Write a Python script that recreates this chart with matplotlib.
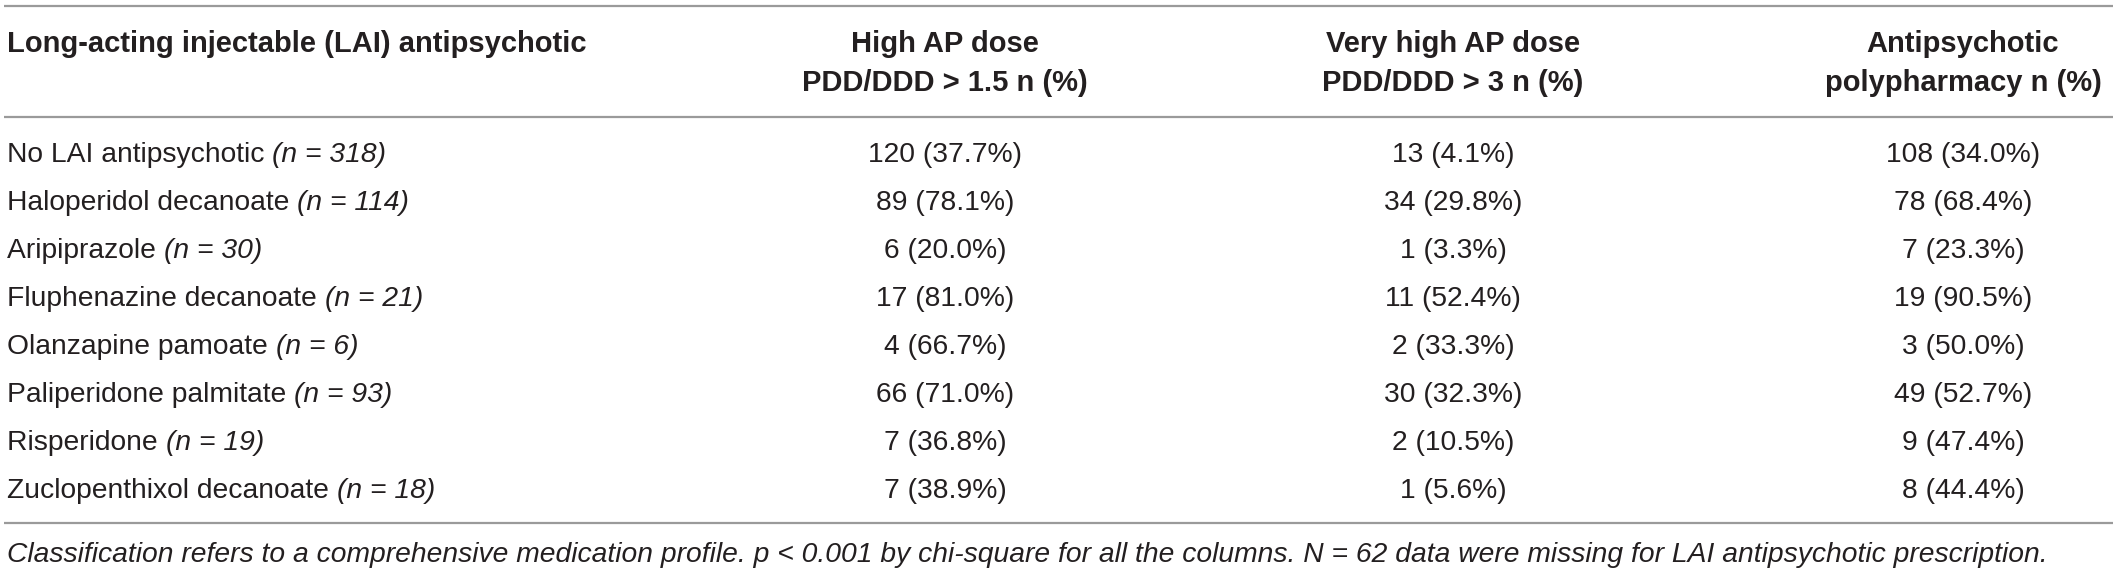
import matplotlib
matplotlib.use("Agg")
import matplotlib.pyplot as plt

# ---- data ----
header_first = "Long-acting injectable (LAI) antipsychotic"
col_headers = [
    ("High AP dose", "PDD/DDD > 1.5 n (%)"),
    ("Very high AP dose", "PDD/DDD > 3 n (%)"),
    ("Antipsychotic", "polypharmacy n (%)"),
]
drugs = ["No LAI antipsychotic", "Haloperidol decanoate", "Aripiprazole",
         "Fluphenazine decanoate", "Olanzapine pamoate", "Paliperidone palmitate",
         "Risperidone", "Zuclopenthixol decanoate"]
n_values = [318, 114, 30, 21, 6, 93, 19, 18]
high_dose = ["120 (37.7%)", "89 (78.1%)", "6 (20.0%)", "17 (81.0%)",
             "4 (66.7%)", "66 (71.0%)", "7 (36.8%)", "7 (38.9%)"]
very_high_dose = ["13 (4.1%)", "34 (29.8%)", "1 (3.3%)", "11 (52.4%)",
                  "2 (33.3%)", "30 (32.3%)", "2 (10.5%)", "1 (5.6%)"]
polypharmacy = ["108 (34.0%)", "78 (68.4%)", "7 (23.3%)", "19 (90.5%)",
                "3 (50.0%)", "49 (52.7%)", "9 (47.4%)", "8 (44.4%)"]
footnote = ("Classification refers to a comprehensive medication profile. p < 0.001 "
            "by chi-square for all the columns. N = 62 data were missing for LAI "
            "antipsychotic prescription.")

W, H = 2118, 572
fig = plt.figure(figsize=(W / 100, H / 100), dpi=100)
ax = fig.add_axes([0, 0, 1, 1])
ax.set_xlim(0, W)
ax.set_ylim(H, 0)
ax.axis("off")

FAM = ["Liberation Sans", "DejaVu Sans"]
TXT = "#231f20"
LINE = "#9a9a9a"
FS = 20.3
FSH = 21.0
FSF = 20.3

col_x = [945, 1453, 1963]
left_x = 7

# rules
for y in (6, 117, 523):
    ax.plot([4, 2113], [y, y], color=LINE, lw=1.6, solid_capstyle="butt")

# header
ax.text(left_x, 52, header_first, fontsize=FSH, fontweight="bold", family=FAM,
        color=TXT, va="baseline", ha="left")
for cx, (l1, l2) in zip(col_x, col_headers):
    ax.text(cx, 52, l1, fontsize=FSH, fontweight="bold", family=FAM, color=TXT,
            va="baseline", ha="center")
    ax.text(cx, 91, l2, fontsize=FSH, fontweight="bold", family=FAM, color=TXT,
            va="baseline", ha="center")

# rows
renderer = fig.canvas.get_renderer()
inv = ax.transData.inverted()
y0, dy = 162, 48.0
for i, (d, n) in enumerate(zip(drugs, n_values)):
    y = y0 + i * dy
    t = ax.text(left_x, y, d + " ", fontsize=FS, family=FAM, color=TXT,
                va="baseline", ha="left")
    bb = t.get_window_extent(renderer=renderer)
    x_end = inv.transform((bb.x1, bb.y0))[0]
    ax.text(x_end, y, f"(n = {n})", fontsize=FS, family=FAM, style="italic",
            color=TXT, va="baseline", ha="left")
    for cx, col in zip(col_x, (high_dose, very_high_dose, polypharmacy)):
        ax.text(cx, y, col[i], fontsize=FS, family=FAM, color=TXT,
                va="baseline", ha="center")

ax.text(left_x, 562, footnote, fontsize=FSF, family=FAM, style="italic",
        color=TXT, va="baseline", ha="left")

fig.savefig("out.png", dpi=100)
